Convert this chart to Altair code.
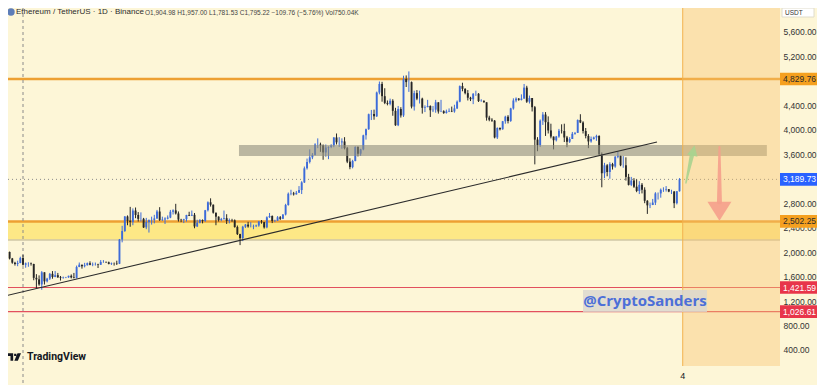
import altair as alt
import pandas as pd

# ---------------- data (ETH/USDT daily) ----------------
open0 = 2010
closes = [
    2082, 2066, 2010, 2002, 1896, 1828, 1806, 1822,
    1905, 1795, 1816, 1816, 1806, 1580, 1555, 1472, 1670, 1522, 1567, 1645, 1594, 1623, 1588, 1577, 1584, 1588, 1613, 1587, 1578, 1756, 1795, 1770, 1786, 1820, 1793, 1798, 1800, 1793,
    1840, 1840, 1834, 1808, 1817, 1816, 1810, 2207, 2345, 2583, 2513, 2494, 2680, 2608, 2544, 2545, 2404, 2492, 2523, 2527, 2551, 2664, 2526, 2534, 2548, 2565, 2660, 2683, 2632, 2532, 2528,
    2540, 2608, 2595, 2610, 2420, 2482, 2525, 2510, 2685, 2815, 2775, 2645, 2580, 2525, 2540, 2555, 2510, 2525, 2520, 2410, 2295, 2230, 2415, 2450, 2420, 2420, 2425, 2435, 2500, 2490,
    2405, 2570, 2590, 2510, 2515, 2570, 2545, 2615, 2770, 2955, 2960, 2945, 2970, 3015, 3140, 3370, 3475, 3550, 3590, 3760, 3760, 3745, 3630, 3710, 3720, 3745, 3875, 3795, 3795, 3810, 3700,
    3480, 3390, 3490, 3720, 3610, 3680, 3910, 4010, 4255, 4260, 4220, 4610, 4750, 4550, 4440, 4425, 4475, 4310, 4075, 4340, 4235, 4830, 4780, 4780, 4380, 4600, 4510, 4510, 4360, 4370, 4390,
    4320, 4330, 4450, 4300, 4305, 4275, 4300, 4310, 4300, 4350, 4460, 4715, 4670, 4600, 4525, 4500, 4590, 4590, 4470, 4475, 4450, 4200, 4165, 4150, 3875, 4030, 4010, 4140, 4215, 4145,
    4350, 4480, 4510, 4490, 4510, 4690, 4460, 4520, 4370, 3840, 3750, 4150, 4250, 4125, 3990, 3890, 3830, 3890, 3985, 3980, 3875, 3805, 3850, 3935, 3950, 4160, 4120, 3980, 3900, 3810, 3850,
    3875, 3900, 3600, 3290, 3420, 3310, 3440, 3400, 3560, 3575, 3420, 3420, 3230, 3100, 3170, 3070, 3000, 3100, 3020, 2840, 2765, 2770, 2810, 2960, 2960, 3020, 3020, 3030, 2990, 2990,
    2800, 2995, 3190,
]
highs = [
    2104, 2094, 2072, 2035, 2010, 1905, 1842, 1860,
    1925, 1957, 1830, 1835, 1830, 1810, 1640, 1620, 1690, 1670, 1580, 1660, 1690, 1690, 1660, 1610, 1600, 1595, 1615, 1635, 1660, 1780, 1830, 1795, 1825, 1830, 1850, 1830, 1830, 1810,
    1870, 1870, 1845, 1845, 1830, 1830, 1860, 2215, 2430, 2590, 2600, 2740, 2715, 2730, 2655, 2650, 2560, 2560, 2535, 2580, 2610, 2690, 2735, 2580, 2570, 2600, 2690, 2700, 2790, 2665, 2545,
    2545, 2610, 2660, 2680, 2640, 2530, 2540, 2535, 2690, 2830, 2880, 2780, 2645, 2585, 2560, 2680, 2620, 2550, 2545, 2535, 2435, 2300, 2430, 2460, 2495, 2490, 2450, 2450, 2510, 2525,
    2495, 2585, 2640, 2600, 2530, 2590, 2590, 2620, 2790, 2975, 3020, 2985, 3000, 3080, 3160, 3400, 3530, 3680, 3620, 3780, 3860, 3790, 3760, 3760, 3730, 3765, 3880, 3940, 3880, 3860, 3880,
    3720, 3535, 3510, 3730, 3730, 3690, 3920, 4020, 4265, 4325, 4330, 4625, 4790, 4785, 4680, 4480, 4510, 4500, 4360, 4390, 4370, 4885, 4890, 4955, 4790, 4640, 4650, 4640, 4525, 4400, 4490,
    4400, 4390, 4490, 4450, 4490, 4320, 4330, 4350, 4380, 4410, 4480, 4725, 4770, 4680, 4650, 4540, 4600, 4640, 4600, 4500, 4480, 4450, 4230, 4190, 4160, 4040, 4040, 4145, 4230, 4240,
    4360, 4515, 4530, 4520, 4580, 4750, 4720, 4560, 4520, 4390, 3880, 4170, 4290, 4290, 4220, 4100, 3890, 3900, 4015, 4090, 4100, 3900, 3880, 3965, 3965, 4170, 4255, 4140, 4030, 3930, 3890,
    3890, 3920, 3910, 3630, 3460, 3440, 3470, 3460, 3570, 3640, 3580, 3570, 3550, 3280, 3230, 3210, 3190, 3160, 3130, 3060, 2850, 2810, 2870, 2980, 2975, 3040, 3060, 3080, 3030, 3020,
    3000, 3000, 3210,
]
lows = [
    2005, 2040, 1995, 1990, 1880, 1810, 1780, 1770,
    1818, 1782, 1745, 1760, 1780, 1540, 1410, 1450, 1385, 1470, 1505, 1545, 1565, 1590, 1580, 1535, 1565, 1575, 1580, 1570, 1570, 1570, 1755, 1730, 1750, 1780, 1785, 1770, 1780, 1740,
    1790, 1825, 1825, 1800, 1790, 1780, 1790, 1805, 2160, 2330, 2440, 2415, 2440, 2555, 2500, 2500, 2395, 2375, 2320, 2450, 2470, 2545, 2510, 2510, 2460, 2535, 2555, 2615, 2615, 2500, 2490,
    2475, 2500, 2590, 2590, 2390, 2410, 2470, 2470, 2495, 2665, 2745, 2630, 2440, 2500, 2505, 2530, 2460, 2470, 2495, 2400, 2280, 2115, 2180, 2395, 2400, 2405, 2375, 2410, 2415, 2465,
    2385, 2390, 2560, 2475, 2490, 2510, 2525, 2540, 2600, 2760, 2930, 2925, 2940, 2970, 2950, 3130, 3350, 3450, 3520, 3580, 3700, 3640, 3510, 3560, 3520, 3700, 3715, 3760, 3720, 3690, 3680,
    3455, 3355, 3370, 3485, 3565, 3575, 3665, 3840, 4000, 4160, 4165, 4210, 4580, 4460, 4420, 4400, 4400, 4230, 4065, 4060, 4200, 4210, 4700, 4620, 4350, 4315, 4485, 4430, 4265, 4290, 4370,
    4210, 4290, 4280, 4265, 4290, 4260, 4265, 4290, 4290, 4280, 4340, 4450, 4630, 4580, 4480, 4470, 4420, 4555, 4455, 4460, 4445, 4150, 4140, 4130, 3860, 3850, 3990, 4000, 4100, 4105,
    4130, 4330, 4450, 4475, 4480, 4510, 4440, 4430, 4300, 3435, 3650, 3720, 4080, 3900, 3940, 3860, 3680, 3810, 3870, 3940, 3800, 3715, 3785, 3850, 3920, 3950, 4110, 3940, 3860, 3700, 3790,
    3840, 3820, 3580, 3060, 3210, 3240, 3200, 3350, 3380, 3535, 3405, 3380, 3170, 3090, 3080, 3050, 2980, 2950, 2960, 2800, 2625, 2720, 2770, 2770, 2860, 2890, 2985, 2990, 2980, 2950,
    2720, 2780, 2990,
]

level_values = [4829.76, 2502.25, 2200, 1421.59, 1026.61]
level_colors = ["#EDA032", "#EDA032", "#CFC7A6", "#E2505E", "#E2505E"]
level_widths = [2.5, 2.5, 1.5, 1.2, 1.2]
last_price = 3189.73
band_top, band_bottom = 2502.25, 2200
zone_top, zone_bottom = 3752, 3573
zone_start, zone_end = 89.6, 286.6
trend_i = [2.3, 245.6]
trend_v = [1284, 3801]
today_i = 255.2
cross_i = 9
tick_values = [400, 800, 1200, 1600, 2000, 2400, 2800, 3600, 4000, 4400, 5200, 5600]
tag_values = [4829.76, 3189.73, 2502.25, 1421.59, 1026.61]
tag_labels = ["4,829.76", "3,189.73", "2,502.25", "1,421.59", "1,026.61"]
tag_bg = ["#F5A01F", "#2962FF", "#F5A01F", "#E8354A", "#E8354A"]
tag_fg = ["#2B2B2B", "#FFFFFF", "#2B2B2B", "#FFFFFF", "#FFFFFF"]
arrow_name = ["up", "up", "down", "down"]
arrow_i = [256.4, 258.7, 268.9, 268.9]
arrow_v = [3131, 3600, 3720, 2821]
arrow_w = [1.5, 4.5, 2.0, 5.0]
arrow_c = ["#A9D38F", "#A9D38F", "#F5A08C", "#F5A08C"]
head_i = [259.2, 268.9]
head_v = [3663, 2670]
head_c = ["#A9D38F", "#F5A08C"]
head_shape = ["M 0 -1 L 1 1 L -1 1 Z", "M -1 -0.79 L 1 -0.79 L 0 0.79 Z"]
head_size = [110, 576]
head_angle = [12, 0]

UP, DOWN = "#3D6BD9", "#262626"
BG = "#FDF6D7"
W, H = 772, 358
RIGHT = 37  # price-scale strip (page is 809 px wide inside the 8px margins)

# ---------------- tables ----------------
opens = [open0] + closes[:-1]
df = pd.DataFrame({"i": range(len(closes)), "open": opens, "high": highs,
                   "low": lows, "close": closes})
df["col"] = [UP if c >= o else DOWN for o, c in zip(df["open"], df["close"])]
levels = pd.DataFrame({"v": level_values, "c": level_colors, "w": level_widths})
trend = pd.DataFrame({"i": trend_i, "v": trend_v})
tags = pd.DataFrame({"v": tag_values, "t": tag_labels, "bg": tag_bg, "fg": tag_fg})
arrows = pd.DataFrame({"a": arrow_name, "i": arrow_i, "v": arrow_v, "w": arrow_w,
                       "c": arrow_c, "k": range(len(arrow_i))})
heads = pd.DataFrame({"i": head_i, "v": head_v, "c": head_c, "s": head_shape,
                      "z": head_size, "ang": head_angle})
one = pd.DataFrame({"k": [0]})

FONT = "Liberation Sans"
xs = alt.Scale(domain=[3.4, 291.5], nice=False, zero=False, padding=0)
ys = alt.Scale(domain=[138, 5992], nice=False, zero=False, padding=0)
AX_X = alt.Axis(values=[255], labelExpr="'4'", ticks=False, domain=False, grid=False,
                title=None, labelFontSize=9, labelColor="#131722", labelFont=FONT,
                labelPadding=5)
AX_Y = alt.Axis(orient="right", values=tick_values, format=",.2f", ticks=False,
                domain=False, grid=False, title=None, labelFontSize=8.5,
                labelColor="#333333", labelFont=FONT, labelPadding=3, labelAlign="left")


def X(f=None, **kw):
    if f is None:
        return alt.X(scale=xs, axis=AX_X, **kw)
    return alt.X(f, scale=xs, axis=AX_X, **kw)


def Y(f=None, **kw):
    if f is None:
        return alt.Y(scale=ys, axis=AX_Y, **kw)
    return alt.Y(f, scale=ys, axis=AX_Y, **kw)


yellow = alt.Chart(one).mark_rect(color="#FDE886").encode(
    x=alt.value(0), x2=alt.value(W), y=Y(datum=band_top), y2=alt.Y2(datum=band_bottom))

lvl = alt.Chart(levels).mark_rule().encode(
    x=alt.value(0), x2=alt.value(W), y=Y("v:Q"),
    color=alt.Color("c:N", scale=None), strokeWidth=alt.StrokeWidth("w:Q", scale=None))

dotted = alt.Chart(one).mark_rule(color="#8A8A8A", strokeWidth=1, strokeDash=[1, 3]).encode(
    x=alt.value(0), x2=alt.value(W), y=Y(datum=last_price))

cross = alt.Chart(one).mark_rule(color="#8A8A8A", strokeWidth=1, strokeDash=[3, 3]).encode(
    x=X(datum=cross_i), y=alt.value(0), y2=alt.value(377))

wick = alt.Chart(df).mark_rule(strokeWidth=1, clip=True).encode(
    x=X("i:Q"), y=Y("low:Q"), y2="high:Q", color=alt.Color("col:N", scale=None))

body = alt.Chart(df).mark_bar(size=1.9, clip=True).encode(
    x=X("i:Q"), y=Y("open:Q"), y2="close:Q", color=alt.Color("col:N", scale=None))

zone = alt.Chart(one).mark_rect(color="#8F8D7D", opacity=0.6).encode(
    x=X(datum=zone_start), x2=alt.X2(datum=zone_end),
    y=Y(datum=zone_top), y2=alt.Y2(datum=zone_bottom))

future = alt.Chart(one).mark_rect(color="#F8C36E", opacity=0.4).encode(
    x=X(datum=today_i), x2=alt.value(W), y=alt.value(0), y2=alt.value(H))

today = alt.Chart(one).mark_rule(color="#F2B24E", strokeWidth=1).encode(
    x=X(datum=today_i), y=alt.value(0), y2=alt.value(H))

trend_line = alt.Chart(trend).mark_line(color="#2B2B2B", strokeWidth=1.1, clip=True).encode(
    x=X("i:Q"), y=Y("v:Q"))

shafts = alt.Chart(arrows).mark_trail(opacity=0.9).encode(
    x=X("i:Q"), y=Y("v:Q"), size=alt.Size("w:Q", scale=None, legend=None),
    detail="a:N", order="k:Q", color=alt.Color("c:N", scale=None))

head_layers = []
for r in heads.itertuples():
    head_layers.append(
        alt.Chart(pd.DataFrame({"i": [r.i], "v": [r.v]})).mark_point(
            shape=r.s, size=r.z, angle=r.ang, filled=True, color=r.c, opacity=0.9,
            strokeWidth=0).encode(x=X("i:Q"), y=Y("v:Q")))

wm_box = alt.Chart(one).mark_rect(color="#D9D7CF", opacity=0.8).encode(
    x=alt.value(575), x2=alt.value(699), y=alt.value(282), y2=alt.value(304))
wm_text = alt.Chart(one).mark_text(text="@CryptoSanders", font="Open Sans", fontSize=15,
                                   fontWeight="bold", color="#4C6FD8",
                                   baseline="middle", align="center").encode(
    x=alt.value(637), y=alt.value(293))

tag_box = alt.Chart(tags).mark_point(
    shape="M -1 -0.34 L 1 -0.34 L 1 0.34 L -1 0.34 Z", size=1369, filled=True,
    opacity=1, strokeWidth=0).encode(
    x=alt.value(W + 18.5), y=Y("v:Q"), color=alt.Color("bg:N", scale=None))
tag_text = alt.Chart(tags).mark_text(font=FONT, fontSize=8.5, align="left",
                                     baseline="middle").encode(
    x=alt.value(W + 3), y=Y("v:Q"), text="t:N", color=alt.Color("fg:N", scale=None))

usdt_box = alt.Chart(one).mark_rect(color="#FFFFFF", stroke="#E0DCCC", strokeWidth=1).encode(
    x=alt.value(W + 2), x2=alt.value(W + 34), y=alt.value(0), y2=alt.value(9))
usdt_text = alt.Chart(one).mark_text(text="USDT", font=FONT, fontSize=6.5, color="#333333",
                                     align="left", baseline="middle").encode(
    x=alt.value(W + 5), y=alt.value(4.5))

icon = alt.Chart(one).mark_point(shape="circle", size=55, filled=True, color="#5D7DB8",
                                 opacity=1).encode(x=alt.value(3), y=alt.value(4))
title = alt.Chart(one).mark_text(text="Ethereum / TetherUS · 1D · Binance", font=FONT,
                                 fontSize=8, color="#2B2B2B", align="left",
                                 baseline="middle").encode(x=alt.value(8), y=alt.value(4))
ohlc = alt.Chart(one).mark_text(
    text="O1,904.98 H1,957.00 L1,781.53 C1,795.22 −109.76 (−5.76%) Vol750.04K",
    font=FONT, fontSize=6.5, color="#444444", align="left", baseline="middle").encode(
    x=alt.value(137), y=alt.value(4.5))

logo_path = ("M -1 -0.55 H -0.12 V 0.55 H -0.5 V -0.15 H -1 Z "
             "M 0.02 -0.45 H 0.34 V -0.13 H 0.02 Z "
             "M 0.5 -0.55 H 1 L 0.55 0.55 H 0.05 Z")
logo = alt.Chart(one).mark_point(shape=logo_path, size=196, filled=True, color="#131722",
                                 opacity=1, strokeWidth=0).encode(
    x=alt.value(6), y=alt.value(349))
logo_text = alt.Chart(one).mark_text(text="TradingView", font="Roboto", fontSize=10.5,
                                     fontWeight="bold", color="#131722", align="left",
                                     baseline="middle").encode(
    x=alt.value(19), y=alt.value(349))

chart = alt.layer(
    yellow, lvl, dotted, cross, wick, body, zone, future, today, trend_line,
    shafts, *head_layers, wm_box, wm_text, tag_box, tag_text, usdt_box, usdt_text,
    icon, title, ohlc, logo, logo_text,
).properties(
    width=W, height=H,
    autosize=alt.AutoSizeParams(type="none"),
    padding={"left": 0, "top": 0, "right": RIGHT, "bottom": 19},
    background=BG,
).configure_view(stroke=None)

chart.save("out.html", embed_options={"renderer": "svg", "actions": False})
